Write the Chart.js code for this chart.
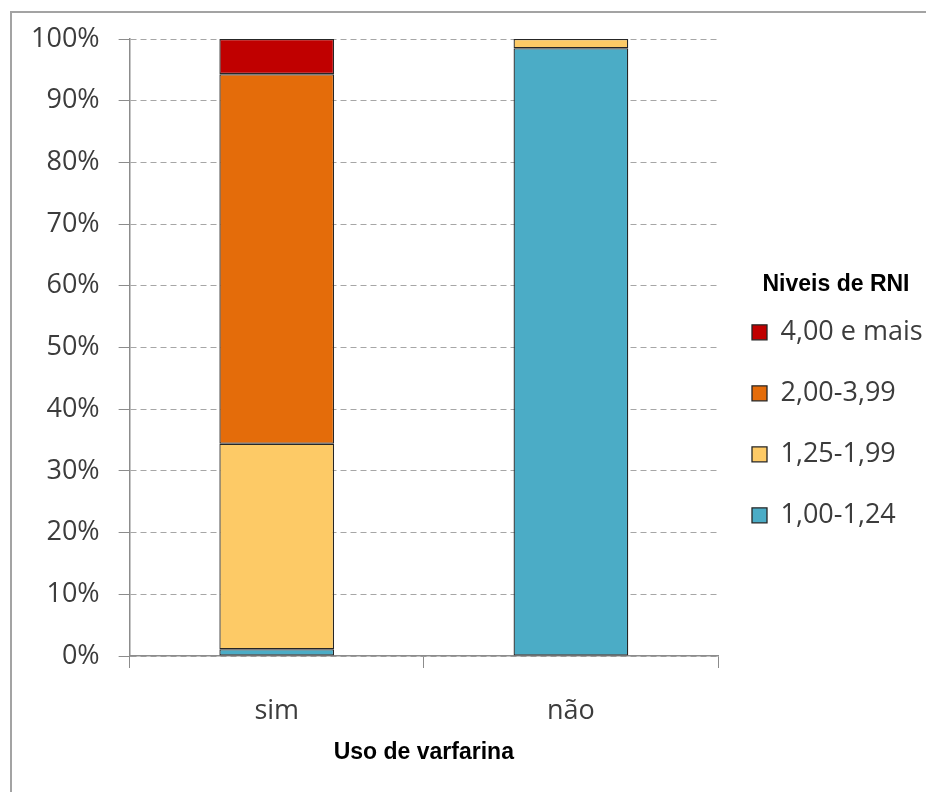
<!DOCTYPE html>
<html>
<head>
<meta charset="utf-8">
<script src="https://cdn.jsdelivr.net/npm/chart.js@4.4.1/dist/chart.umd.min.js"></script>
<style>
  html, body { margin: 0; padding: 0; background: #fff; }
  .wrap { position: relative; width: 926px; height: 792px; overflow: hidden; }
  .frame { position: absolute; left: 10px; top: 11px; right: -10px; bottom: -10px; border-left: 2px solid #a3a3a3; border-top: 2px solid #a3a3a3; }
  canvas { position: absolute; left: 0; top: 0; }
</style>
</head>
<body>
<div class="wrap">
  <div class="frame"></div>
  <canvas id="rni-chart" width="926" height="792"></canvas>
</div>
<script>
// Uso de varfarina x niveis de RNI (percentual por grupo)
const categories = ['sim', 'não'];
const faixa100a124 = [1.1, 98.5];
const faixa125a199 = [33.3, 1.5];
const faixa200a399 = [59.9, null];
const faixa400mais = [5.7, null];
const yTicks = [0, 10, 20, 30, 40, 50, 60, 70, 80, 90, 100];

const bodyFont = "'Open Sans', sans-serif";
const boldFont = "'Liberation Sans', Arial, sans-serif";

// fixed legend width so the plot keeps its size
const legendWidth = {
  id: 'legendWidth',
  beforeInit(chart) {
    const fit = chart.legend.fit;
    chart.legend.fit = function () {
      fit.call(this);
      this.width = 236;
    };
  }
};

const bar = (label, data, color) => ({
  label: label,
  data: data,
  backgroundColor: color,
  borderColor: '#262626',
  borderWidth: 1.3,
  borderSkipped: false,
  barPercentage: 0.39,
  categoryPercentage: 1
});

function drawChart() {
  Chart.defaults.font.family = bodyFont;
  Chart.defaults.color = '#3c3c3c';
  const ctx = document.getElementById('rni-chart').getContext('2d');

  new Chart(ctx, {
    type: 'bar',
    data: {
      labels: categories,
      datasets: [
        bar('1,00-1,24', faixa100a124, '#4BACC6'),
        bar('1,25-1,99', faixa125a199, '#FDCA66'),
        bar('2,00-3,99', faixa200a399, '#E46C0A'),
        bar('4,00 e mais', faixa400mais, '#C00000')
      ]
    },
    plugins: [legendWidth],
    options: {
      responsive: false,
      animation: false,
      layout: { padding: { left: 12, top: 39, right: -28, bottom: 26 } },
      plugins: {
        tooltip: { enabled: false },
        legend: {
          position: 'right',
          reverse: true,
          title: {
            display: true,
            text: 'Niveis de RNI',
            color: '#000',
            font: { family: boldFont, size: 23, weight: 'bold' },
            padding: { top: 31, bottom: -16 }
          },
          labels: {
            boxWidth: 15,
            boxHeight: 15,
            padding: 34,
            color: '#3c3c3c',
            font: { family: bodyFont, size: 27 }
          }
        }
      },
      scales: {
        x: {
          stacked: true,
          grid: {
            offset: true,
            drawOnChartArea: false,
            drawTicks: true,
            tickLength: 12,
            tickColor: '#8c8c8c'
          },
          border: { color: '#8c8c8c', width: 1.5 },
          ticks: { padding: 27, font: { family: bodyFont, size: 27 }, color: '#3c3c3c' },
          title: {
            display: true,
            text: 'Uso de varfarina',
            color: '#000',
            font: { family: boldFont, size: 23, weight: 'bold' },
            padding: { top: -16, bottom: 0 }
          }
        },
        y: {
          stacked: true,
          min: 0,
          max: 100,
          afterBuildTicks(scale) {
            scale.ticks = yTicks.map(v => ({ value: v }));
          },
          grid: {
            color: '#a6a6a6',
            lineWidth: 1,
            tickLength: 11,
            tickColor: '#8c8c8c',
            tickBorderDash: []
          },
          border: { color: '#8c8c8c', width: 1.5, dash: [6, 4] },
          ticks: {
            padding: 19,
            font: { family: bodyFont, size: 27 },
            color: '#3c3c3c',
            callback: v => v + '%'
          }
        }
      }
    }
  });
}

Promise.all([
  document.fonts.load("27px 'Open Sans'"),
  document.fonts.load("bold 23px 'Liberation Sans'")
]).catch(() => {}).then(drawChart);
</script>
</body>
</html>
